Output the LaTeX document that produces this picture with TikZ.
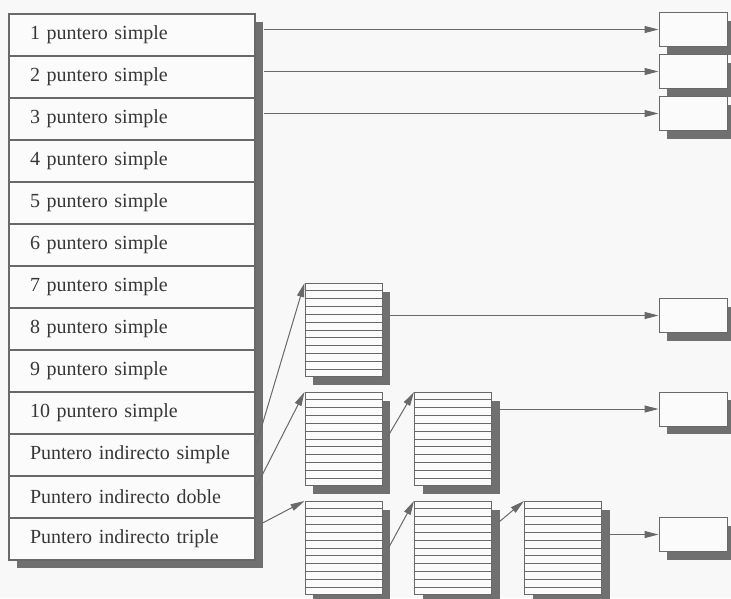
\documentclass[tikz,border=0pt]{standalone}
\usepackage{fontspec}
\setmainfont{Liberation Serif}
\usetikzlibrary{arrows.meta,calc,shadows}
\definecolor{bgcol}{RGB}{248,248,248}
\definecolor{linecol}{RGB}{105,105,105}
\definecolor{shadowcol}{RGB}{112,112,112}
\definecolor{txtcol}{RGB}{55,55,55}
\definecolor{cellcol}{RGB}{251,251,251}
\tikzset{
  rowbox/.style={draw=linecol, line width=1.2pt, fill=cellcol, minimum width=246pt,
    minimum height=42pt, text width=204pt, inner xsep=21pt, inner ysep=0pt, align=left,
    font=\fontsize{20}{22}\selectfont, text=txtcol},
  shad/.style={drop shadow={shadow xshift=8pt, shadow yshift=-8pt, fill=shadowcol, opacity=1}},
  blockbox/.style={draw=linecol, line width=1pt, fill=cellcol, minimum width=77pt,
    minimum height=93pt, inner sep=0pt, shad},
  outbox/.style={draw=linecol, line width=1pt, fill=cellcol, minimum width=68pt,
    minimum height=34pt, inner sep=0pt, shad},
  stripe/.style={draw=linecol, line width=0.9pt},
  ptr/.style={draw=linecol, line width=1pt, -{Triangle[length=14pt,width=7pt]}}
}
\begin{document}
\begin{tikzpicture}[x=1pt,y=-1pt]
\fill[bgcol] (0,0) rectangle (731,598);
\useasboundingbox (0,0) rectangle (731,598);
\clip (0,0) rectangle (731,598);
% table shadow
\fill[shadowcol] (17,22) rectangle (263,568);
% rows
\foreach \i/\t in {1/{1 puntero simple},2/{2 puntero simple},3/{3 puntero simple},
  4/{4 puntero simple},5/{5 puntero simple},6/{6 puntero simple},7/{7 puntero simple},
  8/{8 puntero simple},9/{9 puntero simple},10/{10 puntero simple},
  11/{Puntero indirecto simple},12/{Puntero indirecto doble},13/{Puntero indirecto triple}}
  {\node[rowbox] (r\i) at (132,{35+42*(\i-1)}) {\t};}
% blocks
\node[blockbox] (A) at (343.5,330) {};
\node[blockbox] (B) at (343.5,439) {};
\node[blockbox] (C) at (453,439) {};
\node[blockbox] (D) at (343.5,548) {};
\node[blockbox] (E) at (453,548) {};
\node[blockbox] (F) at (563,548) {};
\foreach \b in {A,B,C,D,E,F}{
  \foreach \k in {1,...,11}{
    \draw[stripe] ($(\b.north west)!\k/12!(\b.south west)$) -- ($(\b.north east)!\k/12!(\b.south east)$);
  }
}
% output boxes
\node[outbox] (b1) at (693,29.5) {};
\node[outbox] (b2) at (693,71.5) {};
\node[outbox] (b3) at (693,113.5) {};
\node[outbox] (b4) at (693,315.5) {};
\node[outbox] (b5) at (693,409) {};
\node[outbox] (b6) at (693,534.5) {};
% direct pointers
\coordinate (s1) at ([xshift=8pt]r1.east);
\coordinate (s2) at ([xshift=8pt]r2.east);
\coordinate (s3) at ([xshift=8pt]r3.east);
\draw[ptr] (s1 |- b1.west) -- (b1.west);
\draw[ptr] (s2 |- b2.west) -- (b2.west);
\draw[ptr] (s3 |- b3.west) -- (b3.west);
% indirect pointers
\draw[ptr] ([yshift=8pt]r11.east) -- (A.north west);
\draw[ptr] ([yshift=9pt]r12.east) -- (B.north west);
\draw[ptr] ([xshift=7pt,yshift=16pt]r13.east) -- (D.north west);
\draw[ptr] ([xshift=5pt,yshift=2pt]B.east) -- (C.north west);
\draw[ptr] ([xshift=6pt]D.east) -- (E.north west);
\draw[ptr] ([xshift=7pt,yshift=26pt]E.east) -- (F.north west);
% block outputs
\coordinate (sA) at ([xshift=7pt]A.east);
\coordinate (sC) at ([xshift=8pt]C.east);
\coordinate (sF) at ([xshift=8pt]F.east);
\draw[ptr] (sA |- b4.west) -- (b4.west);
\draw[ptr] (sC |- b5.west) -- (b5.west);
\draw[ptr] (sF |- b6.west) -- (b6.west);
\end{tikzpicture}
\end{document}
